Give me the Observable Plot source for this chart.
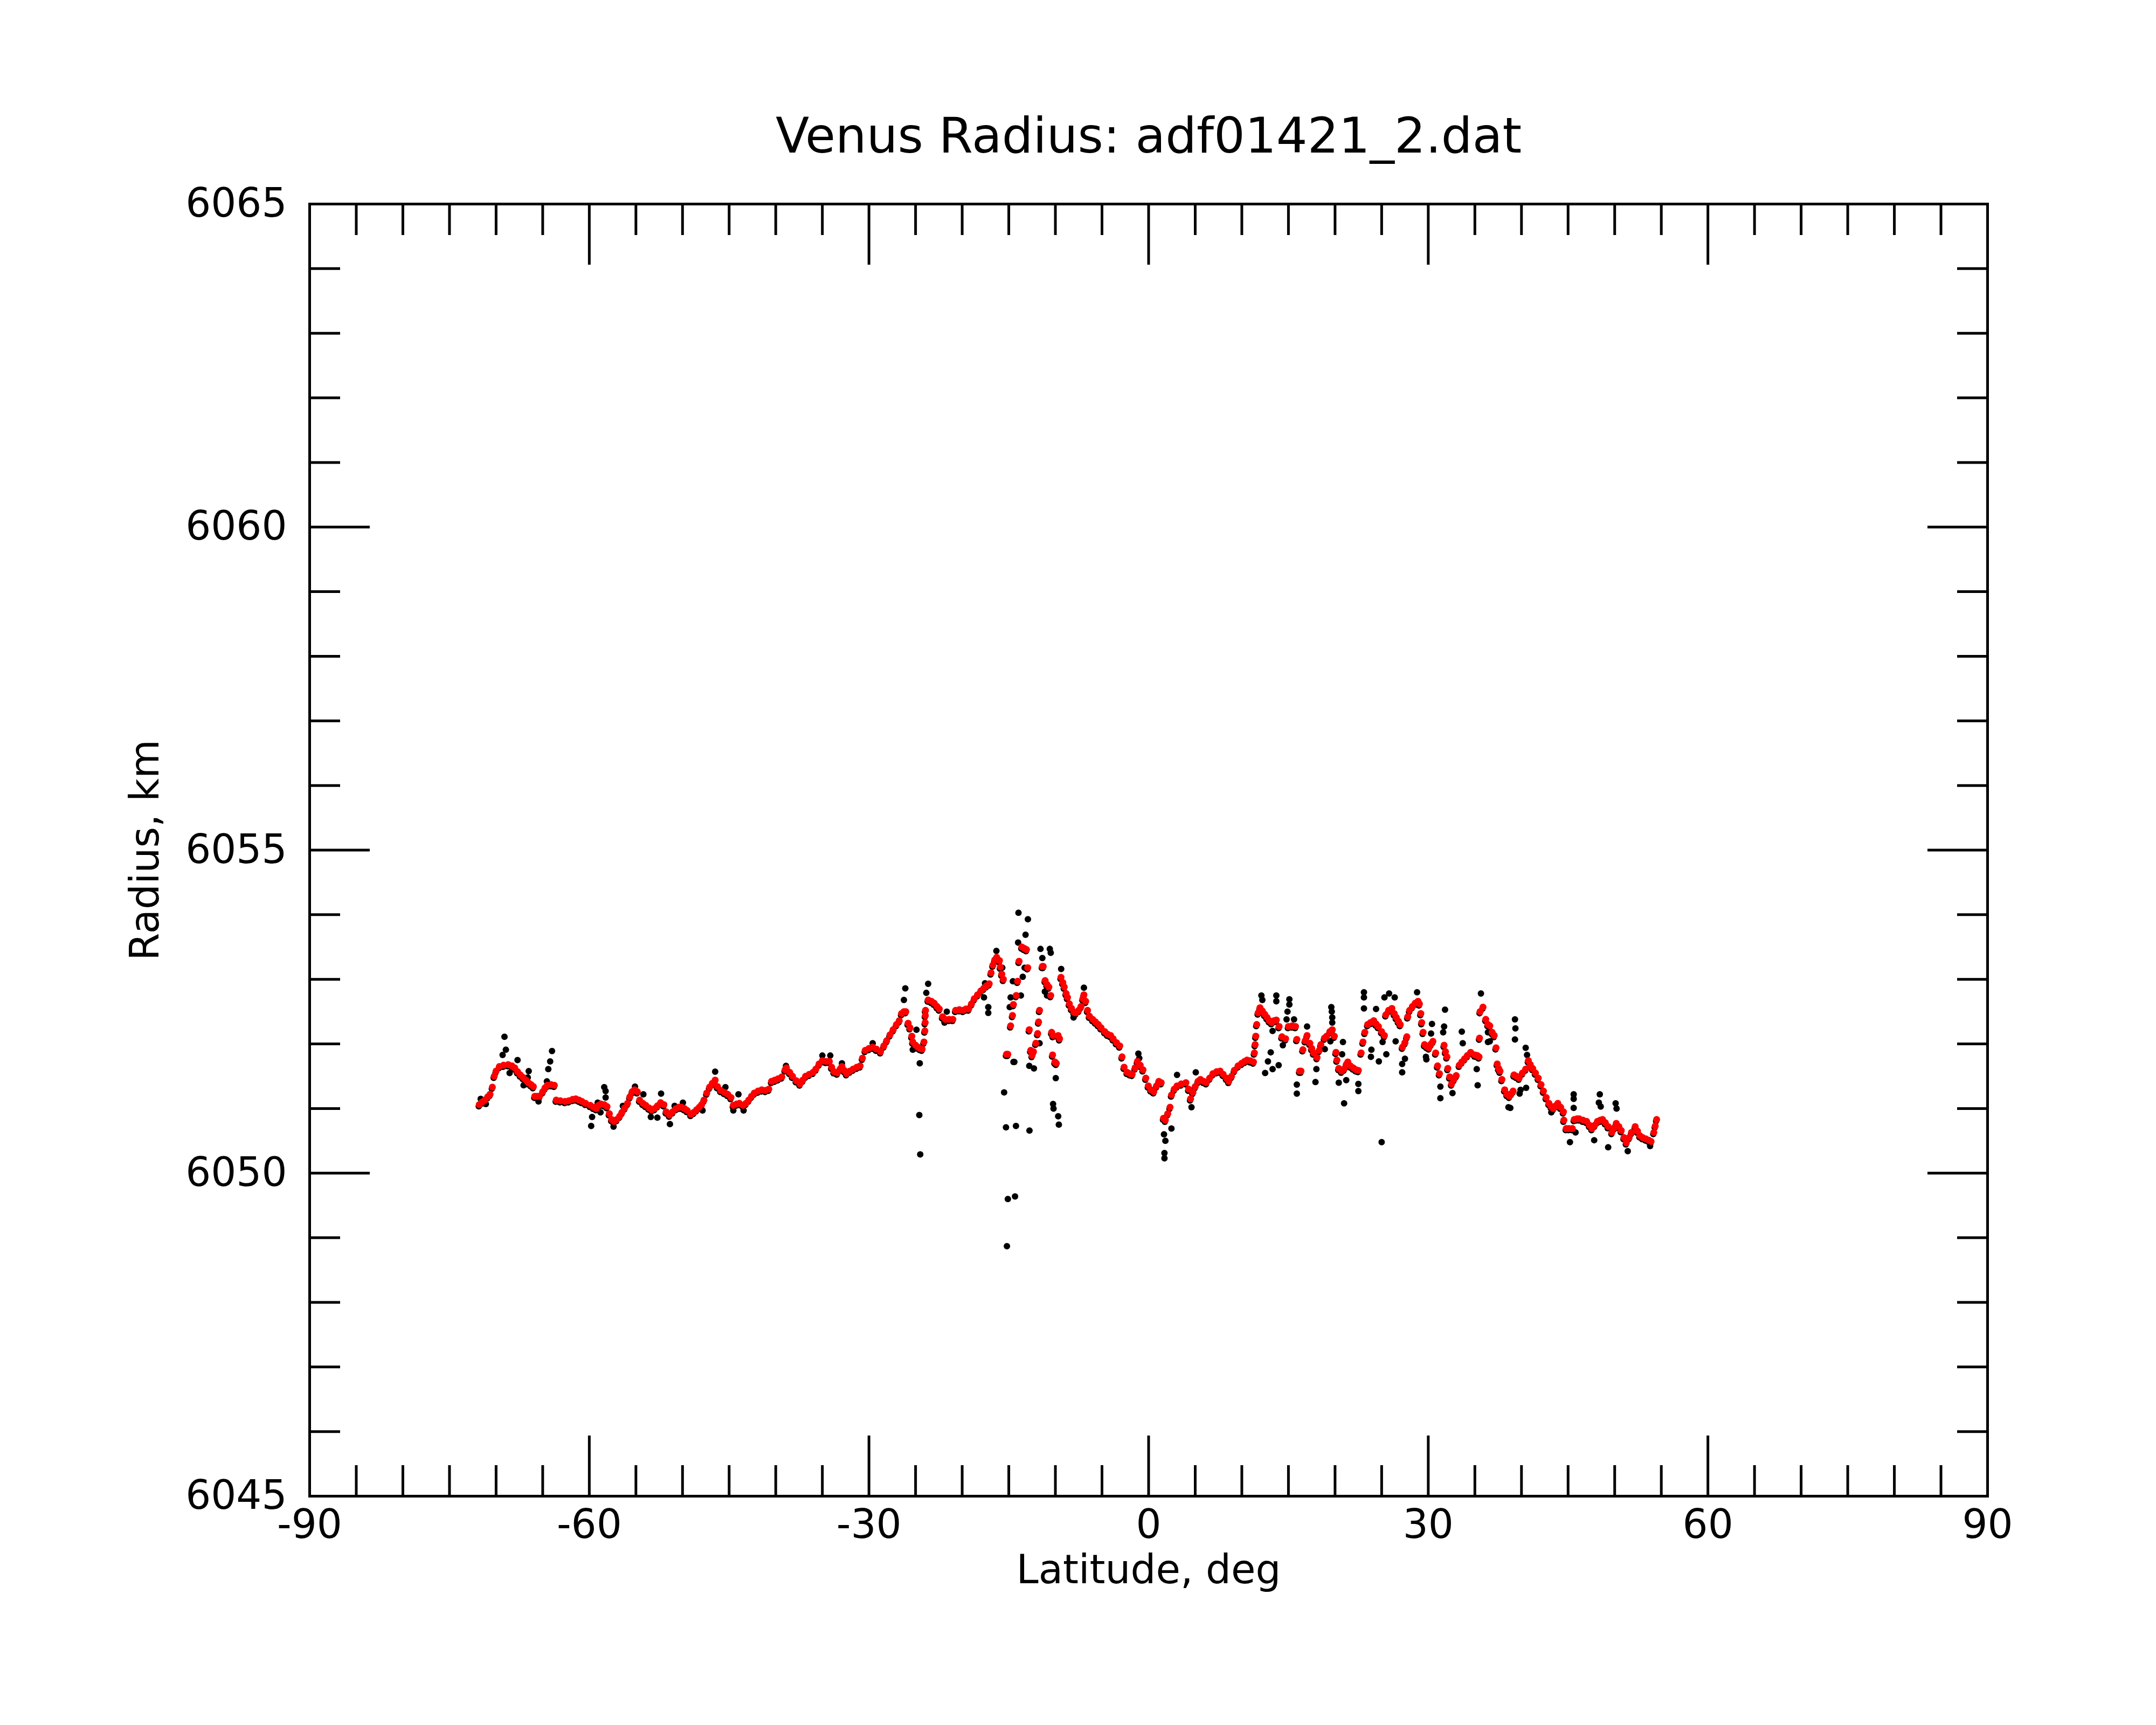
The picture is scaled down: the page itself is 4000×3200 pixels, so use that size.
<!DOCTYPE html>
<html>
<head>
<meta charset="utf-8">
<script src="https://cdn.jsdelivr.net/npm/d3@7"></script>
<script src="https://cdn.jsdelivr.net/npm/@observablehq/plot@0.6"></script>
<style>
  html, body { margin: 0; padding: 0; background: #ffffff; }
  #chart svg { display: block; }
</style>
</head>
<body>
<div id="chart"></div>
<script>
// ---- Data ----
const titleText = "Venus Radius: adf01421_2.dat";
const xLabel = "Latitude, deg";
const yLabel = "Radius, km";

const xMajorTicks = [-90, -60, -30, 0, 30, 60, 90];
const xMinorTicks = [-85, -80, -75, -70, -65, -55, -50, -45, -40, -35, -25, -20, -15, -10, -5,
  5, 10, 15, 20, 25, 35, 40, 45, 50, 55, 65, 70, 75, 80, 85];
const yMajorTicks = [6045, 6050, 6055, 6060, 6065];
const yMinorTicks = [6046, 6047, 6048, 6049, 6051, 6052, 6053, 6054, 6056, 6057, 6058, 6059,
  6061, 6062, 6063, 6064];

// smoothed radius (red)
const smoothLat = [
  -71.8, -71.5, -71.2, -70.9, -70.65, -70.4, -70.2, -70.0, -69.65, -69.2, -68.7, -68.3, -68.0, -67.7, -67.4, -67.1,
  -66.8, -66.55, -66.25, -66.0, -65.85, -65.6, -65.34, -65.0, -64.75, -64.5, -64.1, -63.75, -63.55, -63.1, -62.6, -62.2,
  -61.8, -61.45, -61.1, -60.8, -60.4, -59.9, -59.55, -59.25, -59.0, -58.75, -58.4, -58.1, -57.85, -57.6, -57.35, -57.05,
  -56.75, -56.5, -56.2, -55.9, -55.65, -55.4, -55.15, -54.85, -54.6, -54.25, -53.95, -53.6, -53.3, -53.0, -52.7, -52.35,
  -52.0, -51.75, -51.4, -51.05, -50.7, -50.4, -50.1, -49.8, -49.5, -49.1, -48.8, -48.5, -48.2, -47.95, -47.7, -47.4,
  -47.1, -46.8, -46.5, -46.25, -45.9, -45.5, -45.15, -44.8, -44.55, -44.2, -43.9, -43.5, -43.2, -42.9, -42.6, -42.3,
  -41.9, -41.5, -41.1, -40.75, -40.45, -40.1, -39.75, -39.35, -39.0, -38.85, -38.5, -38.2, -37.8, -37.4, -37.1, -36.8,
  -36.4, -36.0, -35.7, -35.35, -35.0, -34.6, -34.25, -34.0, -33.75, -33.4, -33.1, -32.9, -32.65, -32.4, -32.05, -31.7,
  -31.3, -30.95, -30.7, -30.4, -30.0, -29.6, -29.2, -28.75, -28.4, -28.1, -27.75, -27.4, -27.05, -26.75, -26.5, -26.25,
  -26.05, -25.8, -25.6, -25.4, -25.3, -25.0, -24.75, -24.5, -24.3, -24.1, -24.0, -23.97, -23.95, -23.93, -23.65, -23.3,
  -23.0, -22.7, -22.45, -22.1, -21.8, -21.4, -21.0, -20.7, -20.3, -19.9, -19.6, -19.3, -19.0, -18.7, -18.35, -18.0,
  -17.7, -17.4, -17.1, -16.9, -16.7, -16.5, -16.3, -16.0, -15.9, -15.75, -15.58,
  -15.25, -15.1, -14.8, -14.6, -14.5, -14.2, -14.05, -13.9, -13.6, -13.35, -13.1, -12.97, -12.8, -12.65, -12.5, -12.35,
  -12.1, -11.9, -11.8, -11.7, -11.4, -11.3, -11.1, -10.9, -10.7, -10.5, -10.4, -10.3, -10.25, -10.05, -9.9, -9.7, -9.55,
  -9.4, -9.2, -9.05, -8.85, -8.7, -8.5, -8.27, -8.0, -7.8, -7.5, -7.25, -7.05, -6.94, -6.75, -6.55, -6.35,
  -6.0, -5.7, -5.4, -5.1, -4.7, -4.4, -4.07, -3.8, -3.45, -3.1, -2.85, -2.63, -2.3, -2.0, -1.76, -1.45,
  -1.2, -0.9, -0.6, -0.3, -0.03, 0.25, 0.55, 0.85, 1.1, 1.35, 1.6, 1.8, 2.05, 2.3, 2.46, 2.75,
  3.05, 3.5, 4.0, 4.3, 4.5, 4.75, 5.0, 5.3, 5.56, 5.9, 6.2, 6.55, 6.9, 7.3, 7.67, 8.0,
  8.35, 8.6, 8.9, 9.2, 9.6, 9.98, 10.3, 10.56, 10.9, 11.25, 11.35, 11.43, 11.5, 11.6, 11.75, 11.95,
  12.2, 12.45, 12.7, 12.95, 13.2, 13.45, 13.7, 14.0, 14.3, 14.7, 15.0, 15.4, 15.76, 15.9, 16.2, 16.35,
  16.55, 16.8, 17.0, 17.3, 17.5, 17.7, 18.07, 18.3, 18.48, 18.86, 19.1, 19.44, 19.7, 19.92, 20.1, 20.2,
  20.4, 20.7, 20.97, 21.2, 21.37, 21.65, 21.95, 22.25, 22.5, 22.8, 23.0, 23.2, 23.5, 23.8, 24.15, 24.4,
  24.65, 25.0, 25.3, 25.45, 25.75, 26.1, 26.35, 26.57, 26.8, 27.0, 27.23, 27.5, 27.7, 27.8, 28.0, 28.3,
  28.6, 28.9, 29.05, 29.2, 29.3, 29.45, 29.6, 29.85, 30.08, 30.3, 30.5, 30.8, 31.0, 31.2, 31.7, 31.85,
  32.0, 32.1, 32.3, 32.5, 32.75, 33.0, 33.33, 33.6, 33.9, 34.2, 34.55, 35.0, 35.25, 35.45, 35.5, 35.56,
  35.87, 36.17, 36.4, 36.6, 36.85, 37.08, 37.27, 37.4, 37.55, 37.7, 37.9, 38.2, 38.45, 38.7, 38.9, 39.1,
  39.2, 39.45, 39.75, 40.1, 40.45, 40.74, 40.95, 41.2, 41.5, 41.8, 42.1, 42.36, 42.65, 42.95, 43.2, 43.4,
  43.65, 43.9, 44.2, 44.5, 44.55, 44.8, 45.1, 45.46, 45.66, 45.95, 46.2, 46.6, 46.99, 47.3, 47.56, 47.85,
  48.15, 48.45, 48.7, 49.0, 49.3, 49.7, 49.95, 50.17, 50.45, 50.7, 51.0, 51.25, 51.55, 51.8, 52.2, 52.45,
  52.7, 53.0, 53.35, 53.65, 53.9, 54.2, 54.35, 54.5
];
const smoothR = [
  6051.06, 6051.10, 6051.13, 6051.18, 6051.22, 6051.33, 6051.50, 6051.58, 6051.65, 6051.67, 6051.68, 6051.66, 6051.63, 6051.57, 6051.52, 6051.48,
  6051.44, 6051.40, 6051.37, 6051.34, 6051.19, 6051.19, 6051.19, 6051.26, 6051.32, 6051.36, 6051.37, 6051.36, 6051.13, 6051.12, 6051.11, 6051.12,
  6051.14, 6051.15, 6051.13, 6051.11, 6051.08, 6051.05, 6051.02, 6051.00, 6051.05, 6051.07, 6051.06, 6051.03, 6050.92, 6050.83, 6050.80, 6050.83,
  6050.88, 6050.94, 6051.01, 6051.08, 6051.18, 6051.26, 6051.29, 6051.26, 6051.13, 6051.08, 6051.05, 6051.01, 6050.98, 6051.00, 6051.04, 6051.09,
  6051.06, 6050.95, 6050.90, 6050.95, 6051.00, 6051.02, 6051.02, 6051.00, 6050.97, 6050.91, 6050.94, 6050.98, 6051.02, 6051.06, 6051.13, 6051.24,
  6051.33, 6051.39, 6051.44, 6051.34, 6051.28, 6051.25, 6051.22, 6051.17, 6051.05, 6051.07, 6051.08, 6051.05, 6051.08, 6051.13, 6051.19, 6051.24,
  6051.27, 6051.29, 6051.28, 6051.30, 6051.42, 6051.44, 6051.46, 6051.49, 6051.60, 6051.63, 6051.56, 6051.50, 6051.43, 6051.38, 6051.44, 6051.50,
  6051.53, 6051.56, 6051.61, 6051.69, 6051.74, 6051.73, 6051.73, 6051.64, 6051.57, 6051.55, 6051.61, 6051.65, 6051.59, 6051.54, 6051.58, 6051.61,
  6051.64, 6051.66, 6051.78, 6051.90, 6051.93, 6051.95, 6051.92, 6051.88, 6051.97, 6052.05, 6052.14, 6052.22, 6052.30, 6052.36, 6052.47, 6052.50,
  6052.50, 6052.32, 6052.25, 6052.12, 6052.03, 6051.98, 6051.95, 6051.93, 6051.92, 6052.03, 6052.20, 6052.33, 6052.44, 6052.52, 6052.68, 6052.66,
  6052.63, 6052.58, 6052.54, 6052.42, 6052.38, 6052.38, 6052.38, 6052.52, 6052.53, 6052.52, 6052.54, 6052.54, 6052.62, 6052.70, 6052.76, 6052.82,
  6052.86, 6052.90, 6052.93, 6053.10, 6053.22, 6053.30, 6053.34, 6053.29, 6053.19, 6053.08, 6053.00,
  6051.84, 6051.84, 6052.28, 6052.44, 6052.61, 6052.75, 6052.97, 6053.28, 6053.50, 6053.48, 6053.46, 6053.18, 6052.22, 6051.90, 6051.82, 6051.88,
  6052.01, 6052.16, 6052.34, 6052.52, 6053.20, 6053.20, 6052.98, 6052.92, 6052.88, 6052.75, 6052.18, 6051.83, 6052.13, 6051.72, 6051.70, 6052.13, 6052.08,
  6053.03, 6052.95, 6052.88, 6052.78, 6052.72, 6052.62, 6052.55, 6052.49, 6052.48, 6052.52, 6052.58, 6052.70, 6052.76, 6052.66, 6052.52, 6052.43,
  6052.38, 6052.34, 6052.30, 6052.25, 6052.19, 6052.15, 6052.13, 6052.08, 6052.02, 6051.97, 6051.80, 6051.64, 6051.56, 6051.54, 6051.53, 6051.63,
  6051.73, 6051.67, 6051.60, 6051.47, 6051.35, 6051.29, 6051.26, 6051.35, 6051.42, 6051.40, 6050.85, 6050.82, 6050.92, 6051.02, 6051.21, 6051.30,
  6051.35, 6051.38, 6051.40, 6051.30, 6051.15, 6051.25, 6051.34, 6051.42, 6051.45, 6051.42, 6051.40, 6051.47, 6051.54, 6051.57, 6051.58, 6051.53,
  6051.47, 6051.42, 6051.50, 6051.59, 6051.66, 6051.70, 6051.73, 6051.75, 6051.74, 6051.72, 6051.86, 6051.99, 6052.12, 6052.30, 6052.48, 6052.56,
  6052.51, 6052.46, 6052.41, 6052.36, 6052.33, 6052.36, 6052.37, 6052.27, 6052.11, 6052.08, 6052.27, 6052.28, 6052.27, 6052.07, 6051.58, 6051.58,
  6051.91, 6052.05, 6052.13, 6052.01, 6051.93, 6051.86, 6051.79, 6051.90, 6051.99, 6052.09, 6052.12, 6052.19, 6052.22, 6052.12, 6051.87, 6051.75,
  6051.62, 6051.58, 6051.61, 6051.68, 6051.72, 6051.66, 6051.63, 6051.60, 6051.59, 6051.86, 6052.03, 6052.18, 6052.30, 6052.33, 6052.36, 6052.31,
  6052.27, 6052.19, 6052.13, 6052.45, 6052.52, 6052.55, 6052.47, 6052.41, 6052.35, 6052.30, 6051.95, 6052.02, 6052.11, 6052.42, 6052.52, 6052.58,
  6052.63, 6052.66, 6052.62, 6052.47, 6052.33, 6052.18, 6051.99, 6051.96, 6051.94, 6052.00, 6052.04, 6051.86, 6051.66, 6051.54, 6051.98, 6051.88,
  6051.80, 6051.62, 6051.49, 6051.38, 6051.45, 6051.51, 6051.67, 6051.72, 6051.77, 6051.82, 6051.87, 6051.83, 6051.82, 6051.80, 6052.09, 6052.50,
  6052.57, 6052.38, 6052.30, 6052.28, 6052.18, 6052.13, 6051.94, 6051.69, 6051.62, 6051.58, 6051.45, 6051.29, 6051.22, 6051.19, 6051.23, 6051.27,
  6051.52, 6051.50, 6051.47, 6051.55, 6051.61, 6051.74, 6051.68, 6051.62, 6051.55, 6051.47, 6051.37, 6051.27, 6051.17, 6051.08, 6051.03, 6051.00,
  6051.04, 6051.08, 6051.02, 6050.95, 6050.82, 6050.69, 6050.69, 6050.69, 6050.83, 6050.84, 6050.84, 6050.82, 6050.80, 6050.74, 6050.69, 6050.74,
  6050.80, 6050.82, 6050.83, 6050.78, 6050.72, 6050.63, 6050.70, 6050.77, 6050.72, 6050.66, 6050.55, 6050.47, 6050.55, 6050.63, 6050.72, 6050.65,
  6050.58, 6050.55, 6050.53, 6050.51, 6050.49, 6050.63, 6050.73, 6050.83
];

// raw measurements that stray from the smoothed profile (black)
const rawLat = [
  -69.1, -68.95, -69.3, -67.7, -66.5, -66.6, -67.05, -68.55, -64.0, -64.2, -64.4, -64.55, -65.45, -71.1, -71.65,
  -59.8, -59.7, -58.4, -58.25, -58.25, -58.8, -59.1, -57.4, -56.4, -55.1, -54.2, -53.4, -52.7, -52.3, -51.35,
  -50.85, -49.96, -47.85, -46.5, -45.4, -44.0, -44.55, -43.45, -38.9,
  -35.0, -34.15, -32.9, -29.6, -26.1, -26.25, -25.3, -24.9, -24.55, -24.6, -24.5, -23.65, -23.85, -21.9, -21.65,
  -17.55, -17.66, -17.2, -17.2, -16.33, -15.7, -15.5, -15.3, -15.1, -15.2, -14.33, -14.23, -12.78,
  -13.96, -12.95, -13.2, -14.0, -11.6, -10.6, -11.4, -10.5, -13.3, -13.5, -14.56, -13.7, -14.8, -14.9,
  -11.13, -10.9, -11.7, -12.8, -12.3, -14.5, -14.4, -9.96, -10.25, -10.2, -9.7, -9.63, -9.38, -8.05, -6.94,
  -1.1, -1.0, 1.7, 1.7, 1.65, 2.45, 1.8, 3.05, 4.6, 5.06,
  12.1, 12.2, 13.7, 13.7, 15.1, 15.1, 14.9, 14.8, 15.6, 13.1, 12.8, 12.5, 13.3, 13.95, 13.3, 14.4,
  15.9, 15.9, 17.9, 18.0, 17.0, 19.6, 19.65, 19.7, 19.7, 18.9, 19.5, 20.85, 20.76, 20.97, 20.4, 21.2,
  22.5, 22.5, 23.1, 23.1, 23.1, 23.85, 23.9, 24.7, 25.5, 25.1, 25.0, 25.3, 25.8, 26.4, 24.4, 26.5,
  27.2, 27.2, 27.5, 28.8, 29.75, 30.4, 31.8, 31.7, 31.6, 30.3, 29.8, 31.3, 31.3, 32.6, 33.6, 33.7,
  35.2, 35.3, 35.65, 36.4, 36.4, 38.6, 38.8, 39.3, 39.35, 39.3, 40.45, 40.6, 40.5, 39.8, 39.9, 36.6,
  43.2, 45.6, 45.6, 45.6, 45.2, 45.8, 48.4, 48.3, 48.5, 50.1, 50.2, 47.8, 49.3, 51.4, 53.8
];
const rawR = [
  6052.11, 6051.91, 6051.83, 6051.75, 6051.58, 6051.48, 6051.36, 6051.55, 6051.89, 6051.73, 6051.61, 6051.42, 6051.11, 6051.07, 6051.15,
  6050.73, 6050.87, 6051.33, 6051.27, 6051.17, 6050.94, 6051.09, 6050.72, 6051.04, 6051.34, 6051.22, 6050.87, 6050.86, 6051.23, 6050.76,
  6051.04, 6051.09, 6050.97, 6051.57, 6051.33, 6051.22, 6050.97, 6050.97, 6051.66,
  6051.82, 6051.82, 6051.70, 6052.01, 6052.86, 6052.68, 6051.91, 6052.22, 6051.70, 6050.90, 6050.29, 6052.93, 6052.79, 6052.33, 6052.50,
  6052.94, 6052.72, 6052.57, 6052.48, 6053.44, 6053.18, 6051.25, 6050.71, 6049.60, 6048.87, 6049.64, 6050.73, 6050.66,
  6054.03, 6053.93, 6053.69, 6053.57, 6053.47, 6053.47, 6053.33, 6053.41, 6053.18, 6053.04, 6052.97, 6052.75, 6052.72, 6052.57,
  6052.81, 6052.75, 6052.01, 6051.66, 6051.62, 6051.72, 6051.72, 6051.47, 6051.07, 6051.00, 6050.88, 6050.75, 6053.16, 6052.41, 6052.87,
  6051.85, 6051.78, 6050.31, 6050.23, 6050.60, 6050.69, 6050.50, 6051.52, 6051.02, 6051.56,
  6052.75, 6052.68, 6052.75, 6052.66, 6052.69, 6052.61, 6052.50, 6052.38, 6052.38, 6051.87, 6051.73, 6051.55, 6051.61, 6051.67, 6052.20, 6051.98,
  6051.37, 6051.23, 6051.41, 6051.61, 6052.27, 6052.57, 6052.50, 6052.41, 6052.33, 6051.92, 6052.04, 6052.03, 6051.84, 6051.08, 6051.40, 6051.44,
  6051.27, 6051.38, 6052.80, 6052.72, 6052.55, 6051.80, 6051.91, 6051.73, 6051.84, 6052.03, 6050.48, 6052.72, 6052.78, 6052.72, 6052.54, 6052.04,
  6051.69, 6051.56, 6051.77, 6052.80, 6051.80, 6052.31, 6052.53, 6052.27, 6052.18, 6052.16, 6051.76, 6051.34, 6051.16, 6051.24, 6052.19, 6052.01,
  6051.61, 6051.36, 6052.78, 6052.18, 6052.03, 6051.02, 6051.01, 6052.38, 6052.24, 6052.07, 6051.94, 6051.83, 6051.32, 6051.23, 6051.29, 6052.04,
  6050.94, 6051.22, 6051.15, 6051.01, 6050.48, 6050.63, 6051.22, 6051.09, 6051.03, 6051.08, 6051.00, 6050.51, 6050.40, 6050.34, 6050.42
];

// ---- Build tables ----
const smooth = smoothLat.map((lat, i) => ({lat, r: smoothR[i]}));
const raw = rawLat.map((lat, i) => ({lat, r: rawR[i]}));

const fmt = d => String(d);
const FONT = "DejaVu Sans";
const TICK_W = 5;

const chart = Plot.plot({
  width: 4000,
  height: 3200,
  marginLeft: 574,
  marginRight: 313,
  marginTop: 378,
  marginBottom: 425,
  style: {fontFamily: FONT, fontSize: "74px", background: "#ffffff", color: "#000000"},
  x: {domain: [-90, 90], axis: null},
  y: {domain: [6045, 6065], axis: null},
  marks: [
    // raw data (black) underneath smoothed points
    Plot.dot(smooth, {x: "lat", y: "r", r: 6, fill: "#000000", stroke: null, dy: 3, dx: -1}),
    Plot.dot(raw, {x: "lat", y: "r", r: 6, fill: "#000000", stroke: null}),
    // smoothed profile (red)
    Plot.dot(smooth, {x: "lat", y: "r", r: 6.5, fill: "#ff0000", stroke: null}),
    // frame
    Plot.frame({stroke: "#000000", strokeWidth: 5}),
    // inward ticks, all four sides
    Plot.axisX(xMajorTicks, {anchor: "bottom", tickSize: -112, strokeWidth: TICK_W, fill: "none", label: null}),
    Plot.axisX(xMinorTicks, {anchor: "bottom", tickSize: -57, strokeWidth: TICK_W, fill: "none", label: null}),
    Plot.axisX(xMajorTicks, {anchor: "top", tickSize: -112, strokeWidth: TICK_W, fill: "none", label: null}),
    Plot.axisX(xMinorTicks, {anchor: "top", tickSize: -57, strokeWidth: TICK_W, fill: "none", label: null}),
    Plot.axisY(yMajorTicks, {anchor: "left", tickSize: -112, strokeWidth: TICK_W, fill: "none", label: null}),
    Plot.axisY(yMinorTicks, {anchor: "left", tickSize: -57, strokeWidth: TICK_W, fill: "none", label: null}),
    Plot.axisY(yMajorTicks, {anchor: "right", tickSize: -112, strokeWidth: TICK_W, fill: "none", label: null}),
    Plot.axisY(yMinorTicks, {anchor: "right", tickSize: -57, strokeWidth: TICK_W, fill: "none", label: null}),
    // tick labels
    Plot.axisX(xMajorTicks, {anchor: "bottom", tickSize: 0, tickPadding: 25, tickFormat: fmt, label: null,
      fontSize: 74, fill: "#000000"}),
    Plot.axisY(yMajorTicks, {anchor: "left", tickSize: 0, tickPadding: 42, tickFormat: fmt, label: null,
      fontSize: 74, fill: "#000000"}),
    // title and axis titles
    Plot.text([titleText], {frameAnchor: "top", lineAnchor: "bottom", textAnchor: "middle", dy: -96, fontSize: 91,
      fill: "#000000", fontFamily: FONT}),
    Plot.text([xLabel], {frameAnchor: "bottom", lineAnchor: "bottom", textAnchor: "middle", dy: 161, fontSize: 74,
      fill: "#000000", fontFamily: FONT}),
    Plot.text([yLabel], {frameAnchor: "left", lineAnchor: "bottom", textAnchor: "middle", rotate: -90, dx: -281,
      fontSize: 74, fill: "#000000", fontFamily: FONT})
  ]
});

document.getElementById("chart").appendChild(chart);
</script>
</body>
</html>
